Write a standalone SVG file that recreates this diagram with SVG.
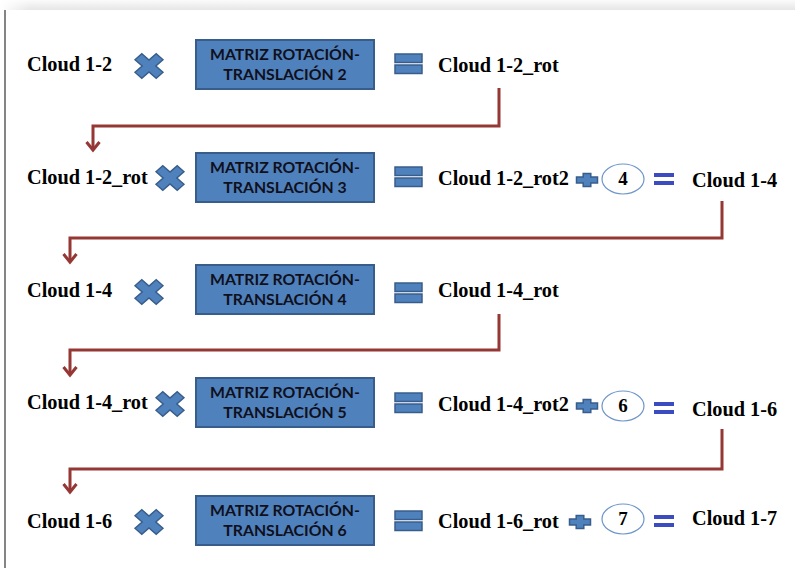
<svg xmlns="http://www.w3.org/2000/svg" width="795" height="568" viewBox="0 0 795 568">
<defs>
  <linearGradient id="topbar" x1="0" y1="0" x2="0" y2="1">
    <stop offset="0" stop-color="#fbfbfb"/>
    <stop offset="1" stop-color="#e6e6e6"/>
  </linearGradient>
  <linearGradient id="topfade" x1="0" y1="0" x2="1" y2="0">
    <stop offset="0" stop-color="#ffffff" stop-opacity="1"/>
    <stop offset="1" stop-color="#ffffff" stop-opacity="0"/>
  </linearGradient>
  <polygon id="mul" points="-4.8,-15 4.8,-15 4.8,-4.8 15,-4.8 15,4.8 4.8,4.8 4.8,15 -4.8,15 -4.8,4.8 -15,4.8 -15,-4.8 -4.8,-4.8" transform="rotate(45)"/>
  <g id="eq">
    <rect x="0" y="0" width="27" height="8.5"/>
    <rect x="0" y="11" width="27" height="8.5"/>
  </g>
  <polygon id="plus" points="-3.8,-6.5 3.8,-6.5 3.8,-3 10.5,-3 10.5,3 3.8,3 3.8,6.5 -3.8,6.5 -3.8,3 -10.5,3 -10.5,-3 -3.8,-3"/>
  <g id="beq">
    <rect x="0" y="0" width="20" height="4"/>
    <rect x="0" y="8" width="20" height="4"/>
  </g>
  <marker id="arr" markerUnits="userSpaceOnUse" markerWidth="20" markerHeight="20" refX="0" refY="0" viewBox="-10 -10 20 20" orient="auto" overflow="visible">
    <path d="M-8,-6.5 L0,0 L-8,6.5" fill="none" stroke="#953735" stroke-width="3"/>
  </marker>
</defs>
<style>
  .lbl { font-family: "Liberation Serif", "Times New Roman", serif; font-weight: bold; font-size: 20.3px; fill: #000; }
  .num { font-family: "Liberation Serif", "Times New Roman", serif; font-weight: bold; font-size: 19px; fill: #000; text-anchor: middle; }
  .box { fill: #4F81BD; stroke: #385D8A; stroke-width: 2; }
  .btxt { font-family: Lato, "Open Sans", "Liberation Sans", sans-serif; font-weight: bold; font-size: 15.8px; fill: #10101c; text-anchor: middle; }
  .op { fill: #4F81BD; stroke: #385D8A; stroke-width: 1.5; }
  .bop { fill: #3B4CC0; }
  .ell { fill: #fff; stroke: #6E95CB; stroke-width: 1.2; }
  .conn { fill: none; stroke: #953735; stroke-width: 3; }
</style>
<rect x="0" y="0" width="795" height="568" fill="#ffffff"/>
<rect x="0" y="0" width="795" height="10" fill="url(#topbar)"/>
<rect x="0" y="0" width="30" height="10" fill="url(#topfade)"/>
<line x1="5" y1="10" x2="5" y2="568" stroke="#333" stroke-width="1.2"/>

<g id="connectors">
  <path class="conn" d="M499,88 V126 H93 V150" marker-end="url(#arr)"/>
  <path class="conn" d="M722,201 V238 H70 V262" marker-end="url(#arr)"/>
  <path class="conn" d="M499,314 V350 H70 V375" marker-end="url(#arr)"/>
  <path class="conn" d="M722,429 V469 H70 V492" marker-end="url(#arr)"/>
</g>

<g id="row1">
  <text class="lbl" x="27" y="71">Cloud 1-2</text>
  <use href="#mul" class="op" transform="translate(149,66) scale(1,0.88)"/>
  <g id="box2">
    <rect class="box" x="196" y="40" width="178" height="49"/>
    <text class="btxt" x="285" y="60">MATRIZ ROTACIÓN-</text>
    <text class="btxt" x="285" y="80">TRANSLACIÓN 2</text>
  </g>
  <use href="#eq" class="op" transform="translate(395,54)"/>
  <text class="lbl" x="438" y="72">Cloud 1-2_rot</text>
</g>

<g id="row2">
  <text class="lbl" x="27" y="184">Cloud 1-2_rot</text>
  <use href="#mul" class="op" transform="translate(170,178) scale(1,0.88)"/>
  <g id="box3">
    <rect class="box" x="196" y="153" width="178" height="49"/>
    <text class="btxt" x="285" y="173">MATRIZ ROTACIÓN-</text>
    <text class="btxt" x="285" y="193">TRANSLACIÓN 3</text>
  </g>
  <use href="#eq" class="op" transform="translate(395,167)"/>
  <text class="lbl" x="438" y="185">Cloud 1-2_rot2</text>
  <use href="#plus" class="op" transform="translate(587,180)"/>
  <g id="n4">
    <ellipse class="ell" cx="623" cy="179" rx="21" ry="15"/>
    <text class="num" x="623" y="185">4</text>
  </g>
  <use href="#beq" class="bop" transform="translate(654,173)"/>
  <text class="lbl" x="692" y="187">Cloud 1-4</text>
</g>

<g id="row3">
  <text class="lbl" x="27" y="297">Cloud 1-4</text>
  <use href="#mul" class="op" transform="translate(149,292) scale(1,0.88)"/>
  <g id="box4">
    <rect class="box" x="196" y="265" width="178" height="49"/>
    <text class="btxt" x="285" y="285">MATRIZ ROTACIÓN-</text>
    <text class="btxt" x="285" y="305">TRANSLACIÓN 4</text>
  </g>
  <use href="#eq" class="op" transform="translate(395,283)"/>
  <text class="lbl" x="438" y="297">Cloud 1-4_rot</text>
</g>

<g id="row4">
  <text class="lbl" x="27" y="409">Cloud 1-4_rot</text>
  <use href="#mul" class="op" transform="translate(170,404) scale(1,0.88)"/>
  <g id="box5">
    <rect class="box" x="196" y="378" width="178" height="49"/>
    <text class="btxt" x="285" y="398">MATRIZ ROTACIÓN-</text>
    <text class="btxt" x="285" y="418">TRANSLACIÓN 5</text>
  </g>
  <use href="#eq" class="op" transform="translate(395,393)"/>
  <text class="lbl" x="438" y="411">Cloud 1-4_rot2</text>
  <use href="#plus" class="op" transform="translate(587,406)"/>
  <g id="n6">
    <ellipse class="ell" cx="623" cy="406" rx="21" ry="15"/>
    <text class="num" x="623" y="412">6</text>
  </g>
  <use href="#beq" class="bop" transform="translate(654,402)"/>
  <text class="lbl" x="692" y="416">Cloud 1-6</text>
</g>

<g id="row5">
  <text class="lbl" x="27" y="528">Cloud 1-6</text>
  <use href="#mul" class="op" transform="translate(149,522) scale(1,0.88)"/>
  <g id="box6">
    <rect class="box" x="196" y="496" width="178" height="49"/>
    <text class="btxt" x="285" y="516">MATRIZ ROTACIÓN-</text>
    <text class="btxt" x="285" y="536">TRANSLACIÓN 6</text>
  </g>
  <use href="#eq" class="op" transform="translate(395,511)"/>
  <text class="lbl" x="438" y="528">Cloud 1-6_rot</text>
  <use href="#plus" class="op" transform="translate(580,522)"/>
  <g id="n7">
    <ellipse class="ell" cx="623" cy="519" rx="21" ry="15"/>
    <text class="num" x="623" y="525">7</text>
  </g>
  <use href="#beq" class="bop" transform="translate(654,515)"/>
  <text class="lbl" x="692" y="525">Cloud 1-7</text>
</g>
</svg>
